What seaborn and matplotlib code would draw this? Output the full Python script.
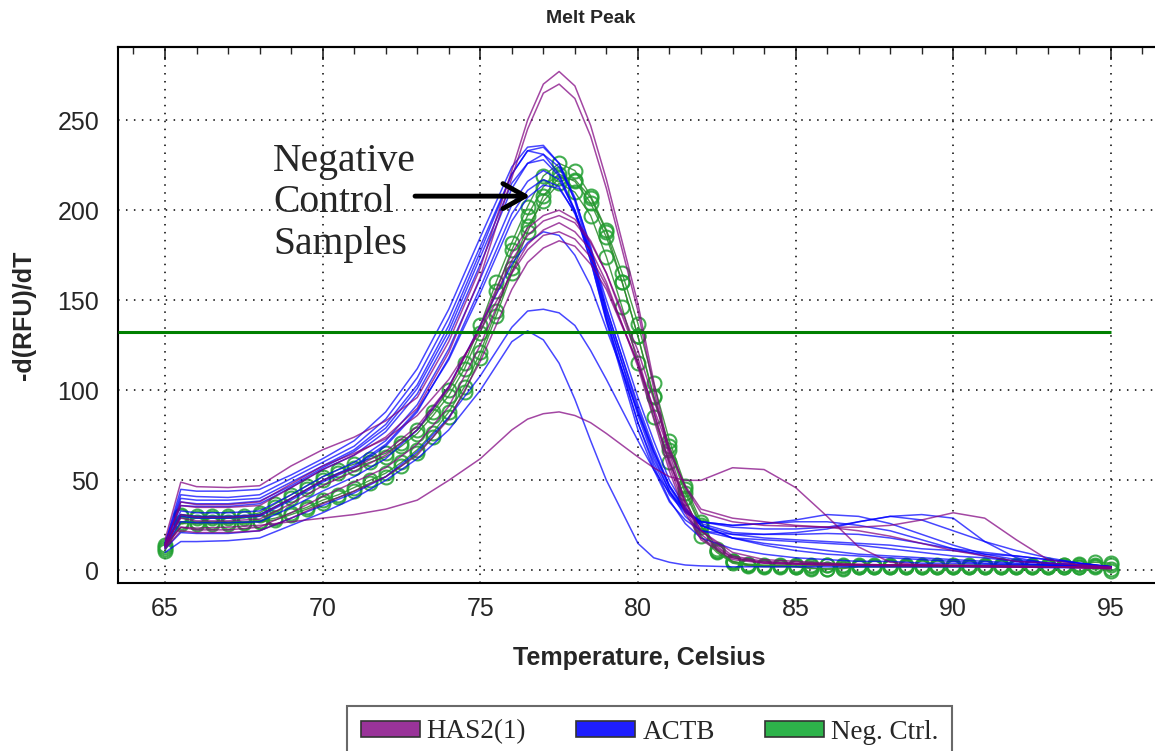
import numpy as np
import pandas as pd
import matplotlib
matplotlib.use("Agg")
import matplotlib.pyplot as plt
import seaborn as sns
from matplotlib.ticker import MultipleLocator
from matplotlib.patches import Patch

# temperature grid used for the HAS2 / ACTB traces
temps = [65, 65.5, 66, 67, 68, 69, 70, 71, 72, 73, 74, 75,
         76, 76.5, 77, 77.5, 78, 78.5, 79,
         80, 80.5, 81, 81.5, 82,
         83, 84, 85, 86, 87, 88, 89, 90, 91, 92, 93, 94, 95]

# negative controls were read every 0.5 degree (one marker per read)
neg_temps = [65 + 0.5 * i for i in range(61)]

has2 = [
    [17, 49, 46.5, 46, 47, 58, 67, 74, 83, 96, 127, 168, 222, 250, 270, 277, 269, 247, 217, 148, 105, 65, 38, 22, 8, 5, 4, 3.5, 3, 3, 3, 3, 2.5, 2.5, 2, 2, 1.5],
    [15, 36, 35, 35, 36, 46, 56, 64, 74, 90, 121, 163, 218, 245, 265, 270, 262, 241, 212, 144, 101, 62, 36, 20, 7, 4.5, 4, 3.5, 3, 3, 3, 2.5, 2.5, 2, 2, 2, 1.5],
    [14, 29, 27.5, 27.5, 28.5, 37, 47, 55, 64, 78, 101, 136, 176, 190, 197, 200, 195, 183, 165, 118, 88, 58, 34, 18, 7, 4, 3.5, 3, 3, 3, 2.5, 2.5, 2.5, 2, 2, 2, 1.5],
    [13, 24, 22.5, 22.5, 24, 32, 41, 49, 57, 70, 91, 125, 166, 181, 189, 193, 188, 178, 160, 113, 84, 55, 32, 17, 6, 4, 3.5, 3, 3, 2.5, 2.5, 2.5, 2, 2, 2, 1.5, 1],
    [14, 38, 36.5, 36.5, 38, 48, 58, 65, 73, 86, 106, 133, 165, 178, 186, 188, 184, 174, 158, 115, 90, 66, 47, 34, 29, 27, 25, 24, 22, 19, 15, 11, 8, 5, 4, 3, 2],
    [12, 22, 21, 21, 22, 29, 37, 44, 52, 64, 84, 116, 156, 171, 179, 183, 180, 170, 156, 115, 88, 60, 38, 22, 10, 6, 5, 4, 3.5, 3, 3, 2.5, 2.5, 2, 2, 1.5, 1],
    [14, 24, 23.5, 24, 25, 27, 29, 31, 34, 39, 50, 62, 78, 84, 87, 88, 86, 82, 76, 63, 57, 52, 50, 50, 57, 56, 46, 30, 13, 4.5, 3, 2.5, 2, 2, 2, 1.5, 1],
    [13, 31, 29.5, 29.5, 30.5, 40, 50, 57, 66, 80, 102, 135, 172, 186, 194, 197, 193, 182, 165, 122, 95, 68, 46, 32, 27, 25, 24.5, 24, 24, 25, 28, 32, 29, 17, 6, 3, 1.5],
]

actb = [
    [15, 45, 44, 44, 45, 53, 62, 72, 88, 112, 145, 185, 224, 235, 236, 226, 205, 175, 140, 82, 60, 42, 32, 27, 25, 26, 28, 31, 30, 26, 20, 14, 9, 6, 4, 3, 2],
    [15, 42, 41, 40.5, 42, 51, 60, 69, 84, 107, 140, 180, 220, 233, 235, 226, 207, 178, 143, 86, 62, 44, 33, 27, 24, 23, 23, 24, 27, 30, 31, 29, 16, 7, 4, 3, 2],
    [14, 40, 39, 39, 40, 49, 58, 67, 81, 103, 136, 177, 220, 233, 231, 220, 200, 172, 138, 78, 56, 38, 28, 22, 20, 20, 21, 23, 27, 30, 28, 22, 16, 11, 7, 4, 2],
    [14, 36, 35.5, 35.5, 37, 46, 56, 64, 77, 98, 130, 170, 212, 226, 231, 224, 206, 180, 146, 90, 66, 46, 33, 25, 20, 18, 17, 16, 15, 14, 12, 11, 9, 8, 6, 4, 2],
    [14, 33, 32, 32, 33, 42, 52, 60, 72, 92, 123, 162, 203, 216, 222, 217, 200, 175, 142, 88, 64, 44, 30, 22, 18, 17, 16, 15, 14, 12, 10, 8, 7, 5, 4, 3, 1.5],
    [13, 30, 29, 29, 30, 39, 49, 57, 69, 88, 118, 157, 198, 211, 217, 213, 198, 176, 145, 92, 68, 47, 34, 27, 25, 26, 27, 27, 25, 22, 17, 12, 8, 5, 4, 3, 2],
    [13, 27, 26.5, 26.5, 27, 35, 44, 52, 62, 78, 102, 136, 170, 182, 188, 186, 175, 158, 134, 88, 66, 47, 34, 25, 18, 15, 13, 11, 9, 8, 7, 6, 5, 4, 3, 2.5, 1.5],
    [12, 21, 20.5, 20.5, 22, 29, 36, 43, 52, 66, 85, 108, 135, 144, 145, 143, 136, 122, 106, 72, 56, 43, 33, 26, 21, 20, 20, 20.5, 20, 18, 15, 12, 10, 8, 6, 4, 2],
    [10, 16, 16, 16.5, 18, 25, 32, 40, 50, 62, 78, 100, 127, 133, 128, 115, 95, 72, 50, 15, 7, 4.5, 3, 2.5, 2, 2, 2, 2, 2, 2, 2, 2, 2, 2, 1.5, 1.5, 1.5],
    [14, 38, 37, 37, 38.5, 47, 57, 66, 79, 101, 133, 174, 215, 226, 228, 219, 199, 172, 139, 82, 58, 39, 26, 18, 12, 9, 7, 6, 5, 5, 4, 4, 3.5, 3, 3, 2.5, 2],
    [13, 31, 30, 30, 31, 40, 50, 58, 70, 89, 117, 154, 194, 207, 214, 212, 199, 178, 150, 96, 72, 50, 35, 25, 18, 14, 11, 9, 8, 7, 6, 5, 4, 3.5, 3, 2.5, 2],
]

neg_ctrl = [
    [14, 31, 30, 30, 30, 30, 32, 37, 42, 47,
     52, 56, 59, 62, 65, 71, 78, 88, 100, 115,
     136, 160, 182, 202, 219, 226, 222, 208, 189, 165,
     137, 104, 72, 47, 27, 12, 5, 3.5, 3, 3,
     3, 3, 3, 3, 3, 3, 3, 3, 3, 3,
     3, 3, 3, 3, 3, 3, 3, 3, 3.5, 4.5,
     4],
    [13, 30, 29, 29, 29, 29, 31, 35, 40, 45,
     50, 54, 57, 60, 63, 69, 76, 86, 97, 112,
     132, 155, 178, 197, 213, 220, 216, 204, 185, 160,
     130, 96, 67, 43, 24, 11, 4.5, 3, 2.5, 2.5,
     2.5, 2.5, 3, 2.5, 2.5, 2.5, 2.5, 2.5, 2.5, 2.5,
     2.5, 2.5, 2.5, 2.5, 2.5, 2.5, 2.5, 3, 3, 3,
     1],
    [12, 27, 27, 27, 27, 27, 27.5, 29, 32, 35,
     39, 42, 46, 50, 54, 60, 67, 76.5, 88, 102,
     121, 144, 168, 191, 205, 215, 210, 197, 174, 146,
     115, 85, 60, 40, 19, 10, 4, 2.5, 2, 2,
     2, 1.5, 0.5, 1, 2, 2, 2, 2, 2, 2,
     2, 2, 2, 2, 2, 2, 2, 2, 2, 2,
     3],
    [11, 26, 26, 26, 26, 26.5, 27, 28, 31, 34,
     37.5, 40.5, 44, 48.5, 52, 58, 65, 74, 85, 99,
     118, 141, 165, 188, 208, 218, 217, 207, 188, 160,
     130, 97, 69, 45, 25, 11, 5, 3, 2.5, 2.5,
     2, 1, 1, 1.5, 2, 2, 2, 2, 2, 2,
     2, 2, 2, 2, 2, 2, 2, 2, 2, 2.5,
     -0.5],
]

threshold = 132.2


def to_long(curves, grid, target):
    rows = []
    for i, vals in enumerate(curves):
        for t, v in zip(grid, vals):
            rows.append((target, f"{target}_{i}", t, v))
    return rows


df_lines = pd.DataFrame(to_long(actb, temps, "ACTB") + to_long(has2, temps, "HAS2(1)"),
                        columns=["target", "well", "temp", "rfu"])
df_neg = pd.DataFrame(to_long(neg_ctrl, neg_temps, "Neg. Ctrl."),
                      columns=["target", "well", "temp", "rfu"])

sns.set_style("white")
plt.rcParams["font.family"] = ["Liberation Sans", "DejaVu Sans"]

fig = plt.figure(figsize=(11.55, 7.51), dpi=100)
ax = fig.add_axes([0.1022, 0.2237, 0.8978, 0.7137])

sns.lineplot(data=df_neg, x="temp", y="rfu", units="well", estimator=None,
             color="#2a8a2a", lw=1.0, alpha=0.85, marker="o", markersize=10,
             markerfacecolor="none", markeredgecolor="#22a032", markeredgewidth=1.5,
             legend=False, ax=ax)
sns.lineplot(data=df_lines, x="temp", y="rfu", hue="target", units="well",
             estimator=None, hue_order=["ACTB", "HAS2(1)"],
             palette={"ACTB": "#0000ff", "HAS2(1)": "#800080"},
             lw=1.1, alpha=0.72, legend=False, ax=ax)

x_lo, x_hi = 63.51, 96.4
ax.hlines(threshold, x_lo, neg_temps[-1], color="#008000", lw=2.2, zorder=5)

ax.set_xlim(x_lo, x_hi)
ax.set_ylim(-7, 290.6)
ax.set_xticks(range(65, 96, 5))
ax.xaxis.set_minor_locator(MultipleLocator(1))
ax.set_yticks(range(0, 251, 50))
ax.yaxis.set_minor_locator(MultipleLocator(10))

ax.grid(True, which="major", linestyle=(0, (1, 4.2)), color="black", lw=1.1)
ax.tick_params(axis="x", which="major", direction="inout", length=14, width=1.3, labelsize=18, pad=3)
ax.tick_params(axis="x", which="minor", direction="inout", length=6, width=1.2)
ax.tick_params(axis="y", which="major", direction="inout", length=11, width=1.3, labelsize=18, pad=8)
ax.tick_params(axis="y", which="minor", direction="inout", length=7, width=1.2)

top = ax.secondary_xaxis("top")
top.set_xticks(range(65, 96, 5))
top.xaxis.set_minor_locator(MultipleLocator(1))
top.tick_params(axis="x", which="major", direction="in", length=9, width=1.2, labeltop=False)
top.tick_params(axis="x", which="minor", direction="in", length=5, width=1.0)

for side in ["left", "bottom", "top"]:
    ax.spines[side].set_linewidth(1.5)
    ax.spines[side].set_color("black")
top.spines["top"].set_linewidth(1.5)
ax.spines["right"].set_visible(False)

ax.set_xlabel("Temperature, Celsius", fontsize=18, fontweight="bold")
ax.xaxis.set_label_coords(0.503, -0.118)
ax.set_ylabel("-d(RFU)/dT", fontsize=18, fontweight="bold")
ax.yaxis.set_label_coords(-0.079, 0.5)

fig.text(0.511, 0.976, "Melt Peak", fontsize=14, fontweight="bold", ha="center", va="center")

ax.text(68.43, 204, "Negative\nControl\nSamples", family=["Liberation Serif", "DejaVu Serif"],
        fontsize=28.5, ha="left", va="center", linespacing=1.15)
ax.annotate("", xy=(76.58, 207.8), xytext=(72.93, 207.8),
            arrowprops=dict(arrowstyle="->, head_length=0.8, head_width=0.45", lw=3.5,
                            color="black", mutation_scale=20, shrinkA=0, shrinkB=0))

handles = [Patch(facecolor="#993399", edgecolor="#333333", lw=1.2, label="HAS2(1)"),
           Patch(facecolor="#1e1eff", edgecolor="#333333", lw=1.2, label="ACTB"),
           Patch(facecolor="#2db34a", edgecolor="#333333", lw=1.2, label="Neg. Ctrl.")]
leg = fig.legend(handles=handles, loc="upper center", bbox_to_anchor=(0.5623, 1 - 706 / 751),
                 ncol=3, frameon=True, fancybox=False, edgecolor="#444444",
                 prop={"family": ["Liberation Serif", "DejaVu Serif"], "size": 19.5},
                 handlelength=2.18, handleheight=0.5, handletextpad=0.26,
                 columnspacing=1.85, borderpad=0.5, borderaxespad=0)
leg.get_frame().set_linewidth(1.5)

fig.savefig("out.png", dpi=100)
